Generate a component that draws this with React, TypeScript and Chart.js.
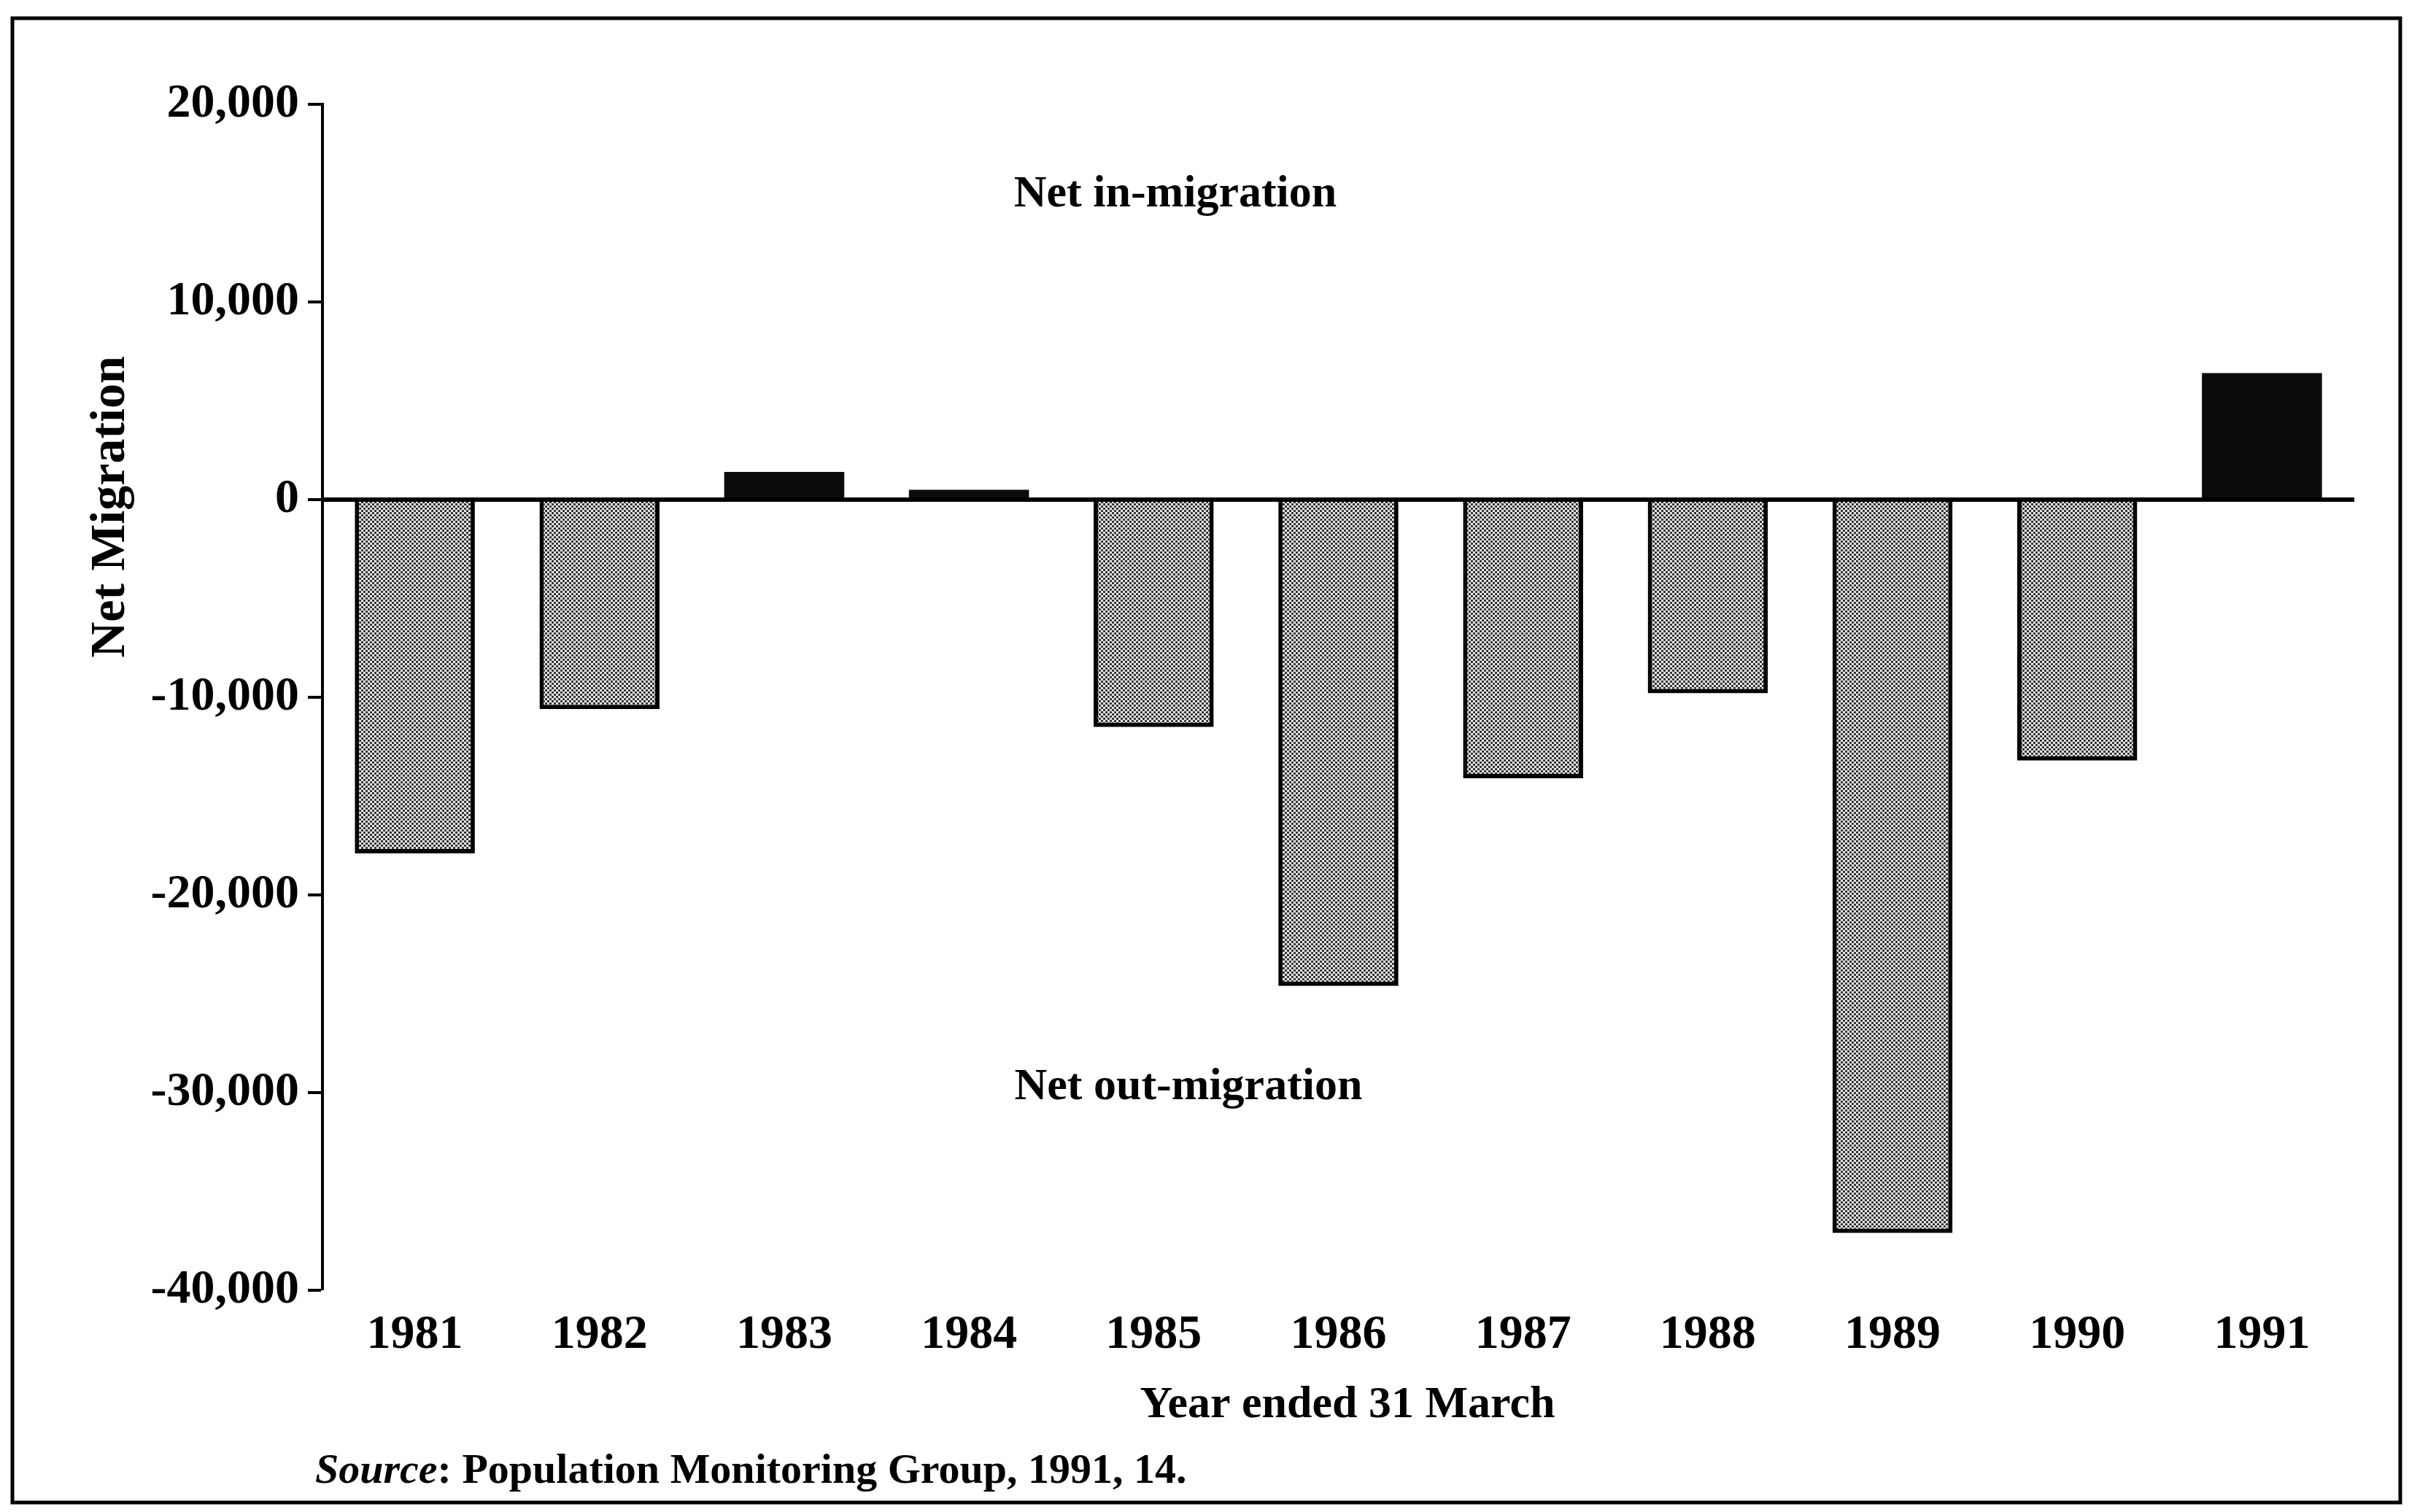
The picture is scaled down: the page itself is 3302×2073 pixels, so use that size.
import React, { useEffect, useRef } from 'react';
import { Chart, registerables } from 'chart.js';

Chart.register(...registerables);

// ---- Data ----
const years = ['1981', '1982', '1983', '1984', '1985', '1986', '1987', '1988', '1989', '1990', '1991'];
const netMigration = [-17900, -10600, 1400, 500, -11500, -24600, -14100, -9800, -37100, -13200, 6400];
const yMin = -40000;
const yMax = 20000;
const yStep = 10000;

// ---- Text ----
const inLabel = 'Net in-migration';
const outLabel = 'Net out-migration';
const xTitle = 'Year ended 31 March';
const yTitle = 'Net Migration';
const sourceItalic = 'Source';
const sourceRest = ': Population Monitoring Group, 1991, 14.';

const W = 3302;
const H = 2073;
const FONT = '"Liberation Serif", "DejaVu Serif", serif';

function makePattern(): CanvasPattern | string {
  const c = document.createElement('canvas');
  c.width = 6;
  c.height = 6;
  const g = c.getContext('2d');
  if (!g) return '#999';
  g.fillStyle = '#e2e2e2';
  g.fillRect(0, 0, 6, 6);
  g.fillStyle = '#1e1e1e';
  g.beginPath();
  g.arc(1.5, 1.5, 1.55, 0, Math.PI * 2);
  g.arc(4.5, 4.5, 1.55, 0, Math.PI * 2);
  g.fill();
  const p = g.createPattern(c, 'repeat');
  return p || '#999';
}

const decorPlugin = {
  id: 'decor',
  afterDraw(chart: any) {
    const { ctx } = chart;
    ctx.save();
    // frame
    ctx.strokeStyle = '#000';
    ctx.lineWidth = 5;
    ctx.strokeRect(17, 25, 3273, 2035);

    ctx.fillStyle = '#000';
    ctx.textAlign = 'center';
    ctx.textBaseline = 'middle';
    ctx.font = `bold 62px ${FONT}`;
    ctx.fillText(inLabel, 1611, 267);
    ctx.fillText(outLabel, 1629, 1491);
    ctx.fillText(xTitle, 1847, 1927);

    // y title
    ctx.save();
    ctx.translate(152, 695);
    ctx.rotate(-Math.PI / 2);
    ctx.font = `bold 68px ${FONT}`;
    ctx.fillText(yTitle, 0, 0);
    ctx.restore();

    // source
    ctx.textAlign = 'left';
    ctx.font = `italic bold 58px ${FONT}`;
    const x0 = 432;
    ctx.fillText(sourceItalic, x0, 2018);
    const w = ctx.measureText(sourceItalic).width;
    ctx.font = `bold 58px ${FONT}`;
    ctx.fillText(sourceRest, x0 + w, 2018);
    ctx.restore();
  },
};

export default function App() {
  const ref = useRef<HTMLCanvasElement | null>(null);

  useEffect(() => {
    document.body.style.margin = '0';
    document.body.style.overflow = 'hidden';
    const canvas = ref.current;
    if (!canvas) return;
    const pattern = makePattern();
    const chart = new Chart(canvas, {
      type: 'bar',
      data: {
        labels: years,
        datasets: [
          {
            data: netMigration,
            backgroundColor: netMigration.map((v) => (v < 0 ? pattern : '#0c0c0c')) as any,
            borderColor: '#000',
            borderWidth: netMigration.map((v) => (v < 0 ? 6 : 0)),
            categoryPercentage: 1,
            barPercentage: 0.65,
          },
        ],
      },
      options: {
        responsive: false,
        devicePixelRatio: 1,
        animation: false,
        events: [],
        layout: {
          autoPadding: false,
          padding: { left: 0, top: 143, right: 75, bottom: 0 },
        },
        plugins: {
          legend: { display: false },
          tooltip: { enabled: false },
          title: { display: false },
        },
        scales: {
          x: {
            offset: true,
            grid: { display: false, drawTicks: false },
            border: { display: false },
            ticks: {
              color: '#000',
              padding: 22,
              maxRotation: 0,
              autoSkip: false,
              font: { family: FONT, size: 66, weight: 'bold' },
            },
            afterFit(scale: any) {
              scale.height = 304;
            },
          },
          y: {
            z: 1,
            min: yMin,
            max: yMax,
            grid: {
              drawOnChartArea: true,
              color: (c: any) => (c.tick && c.tick.value === 0 ? '#000' : 'rgba(0,0,0,0)'),
              lineWidth: (c: any) => (c.tick && c.tick.value === 0 ? 6 : 0),
              tickColor: '#000',
              tickWidth: 4,
              tickLength: 20,
            },
            border: { display: true, color: '#000', width: 4 },
            ticks: {
              stepSize: yStep,
              color: '#000',
              padding: 12,
              font: { family: FONT, size: 66, weight: 'bold' },
              callback: (v: any) => Number(v).toLocaleString('en-US'),
            },
            afterFit(scale: any) {
              scale.width = 442;
            },
          },
        },
      },
      plugins: [decorPlugin],
    });
    return () => chart.destroy();
  }, []);

  return (
    <div style={{ position: 'absolute', left: 0, top: 0, width: W, height: H, background: '#fff' }}>
      <canvas ref={ref} width={W} height={H} style={{ display: 'block', width: W, height: H }} />
    </div>
  );
}
